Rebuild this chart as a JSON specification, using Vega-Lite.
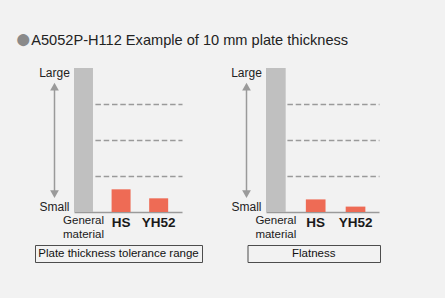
{
  "$schema": "https://vega.github.io/schema/vega-lite/v6.json",
  "background": "#f2f2f2",
  "padding": {"left": 15, "top": 26, "right": 65, "bottom": 36},
  "title": {
    "text": "●",
    "subtitle": "\u200b\u00a0\u00a0\u00a0\u00a0A5052P-H112 Example of 10 mm plate thickness",
    "anchor": "start",
    "frame": "group",
    "color": "#8a8a8a",
    "fontSize": 28,
    "font": "Liberation Sans",
    "fontWeight": "normal",
    "subtitleColor": "#222222",
    "subtitleFontSize": 14.6,
    "subtitleFont": "Liberation Sans",
    "subtitlePadding": -21,
    "dx": -20,
    "offset": 13
  },
  "spacing": 4,
  "vconcat": [
    {
      "spacing": 45,
      "hconcat": [
        {
          "bounds": "flush",
          "spacing": 0,
          "hconcat": [
            {
              "width": 39,
              "height": 144,
              "layer": [
                {
                  "data": {"values": [{"from": 0.496, "to": 3.485}]},
                  "mark": {"type": "rule", "color": "#9a9a9a", "strokeWidth": 1.5},
                  "encoding": {
                    "y": {"field": "from", "type": "quantitative", "scale": {"domain": [0, 4], "nice": false}, "axis": null},
                    "y2": {"field": "to"}
                  }
                },
                {
                  "data": {"values": [{"end": "top", "v": 3.485}, {"end": "bottom", "v": 0.496}]},
                  "mark": {"type": "point", "filled": true, "color": "#9a9a9a", "size": 76, "opacity": 1, "strokeWidth": 0},
                  "encoding": {
                    "y": {"field": "v", "type": "quantitative", "scale": {"domain": [0, 4], "nice": false}, "axis": null},
                    "shape": {"field": "end", "type": "nominal", "scale": {"domain": ["top", "bottom"], "range": ["M-1,0.885L1,0.885L0,-0.885Z", "M-1,-0.885L1,-0.885L0,0.885Z"]}, "legend": null}
                  }
                },
                {
                  "data": {"values": [{"label": "Large", "v": 4}]},
                  "mark": {"type": "text", "baseline": "top", "fontSize": 12, "color": "#222222"},
                  "encoding": {
                    "y": {"field": "v", "type": "quantitative", "scale": {"domain": [0, 4], "nice": false}, "axis": null},
                    "text": {"field": "label"}
                  }
                },
                {
                  "data": {"values": [{"label": "Small", "v": 0}]},
                  "mark": {"type": "text", "baseline": "alphabetic", "dy": -1, "fontSize": 12, "color": "#222222"},
                  "encoding": {
                    "y": {"field": "v", "type": "quantitative", "scale": {"domain": [0, 4], "nice": false}, "axis": null},
                    "text": {"field": "label"}
                  }
                }
              ]
            },
            {
              "width": 108,
              "height": 144,
              "data": {"values": [
                {"material": "General material", "value": 4},
                {"material": "HS", "value": 0.63},
                {"material": "YH52", "value": 0.38}
              ]},
              "mark": {"type": "bar"},
              "encoding": {
                "x": {
                  "field": "material", "type": "nominal", "sort": null,
                  "scale": {"paddingInner": 0.495, "paddingOuter": 0.184, "align": 0},
                  "axis": {
                    "title": null, "labelAngle": 0, "ticks": false, "domainColor": "#9a9a9a", "domainWidth": 1.5,
                    "labelColor": "#1a1a1a", "labelOverlap": false, "labelBaseline": "top", "labelLineHeight": 14,
                    "labelExpr": "datum.value == 'General material' ? ['General', 'material'] : datum.label",
                    "labelPadding": {"condition": {"test": "datum.value == 'General material'", "value": 2}, "value": 3},
                    "labelFontSize": {"condition": {"test": "datum.value == 'General material'", "value": 11.5}, "value": 13.5},
                    "labelFontWeight": {"condition": {"test": "datum.value == 'General material'", "value": "normal"}, "value": "bold"}
                  }
                },
                "y": {
                  "field": "value", "type": "quantitative", "scale": {"domain": [0, 4], "nice": false},
                  "axis": {"title": null, "labels": false, "ticks": false, "domain": false, "grid": true, "values": [1, 2, 3], "gridColor": "#9a9a9a", "gridWidth": 1.5, "gridDash": [5.5, 2.8], "gridDashOffset": 4}
                },
                "color": {"condition": {"test": "datum.material === 'General material'", "value": "#c0c0c0"}, "value": "#ee6b55"}
              }
            }
          ]
        },
        {
          "bounds": "flush",
          "spacing": 0,
          "hconcat": [
            {
              "width": 39,
              "height": 144,
              "layer": [
                {
                  "data": {"values": [{"from": 0.496, "to": 3.485}]},
                  "mark": {"type": "rule", "color": "#9a9a9a", "strokeWidth": 1.5},
                  "encoding": {
                    "y": {"field": "from", "type": "quantitative", "scale": {"domain": [0, 4], "nice": false}, "axis": null},
                    "y2": {"field": "to"}
                  }
                },
                {
                  "data": {"values": [{"end": "top", "v": 3.485}, {"end": "bottom", "v": 0.496}]},
                  "mark": {"type": "point", "filled": true, "color": "#9a9a9a", "size": 76, "opacity": 1, "strokeWidth": 0},
                  "encoding": {
                    "y": {"field": "v", "type": "quantitative", "scale": {"domain": [0, 4], "nice": false}, "axis": null},
                    "shape": {"field": "end", "type": "nominal", "scale": {"domain": ["top", "bottom"], "range": ["M-1,0.885L1,0.885L0,-0.885Z", "M-1,-0.885L1,-0.885L0,0.885Z"]}, "legend": null}
                  }
                },
                {
                  "data": {"values": [{"label": "Large", "v": 4}]},
                  "mark": {"type": "text", "baseline": "top", "fontSize": 12, "color": "#222222"},
                  "encoding": {
                    "y": {"field": "v", "type": "quantitative", "scale": {"domain": [0, 4], "nice": false}, "axis": null},
                    "text": {"field": "label"}
                  }
                },
                {
                  "data": {"values": [{"label": "Small", "v": 0}]},
                  "mark": {"type": "text", "baseline": "alphabetic", "dy": -1, "fontSize": 12, "color": "#222222"},
                  "encoding": {
                    "y": {"field": "v", "type": "quantitative", "scale": {"domain": [0, 4], "nice": false}, "axis": null},
                    "text": {"field": "label"}
                  }
                }
              ]
            },
            {
              "width": 113,
              "height": 144,
              "data": {"values": [
                {"material": "General material", "value": 4},
                {"material": "HS", "value": 0.35},
                {"material": "YH52", "value": 0.15}
              ]},
              "mark": {"type": "bar"},
              "encoding": {
                "x": {
                  "field": "material", "type": "nominal", "sort": null,
                  "scale": {"paddingInner": 0.506, "paddingOuter": 0.171, "align": 0},
                  "axis": {
                    "title": null, "labelAngle": 0, "ticks": false, "domainColor": "#9a9a9a", "domainWidth": 1.5,
                    "labelColor": "#1a1a1a", "labelOverlap": false, "labelBaseline": "top", "labelLineHeight": 14,
                    "labelExpr": "datum.value == 'General material' ? ['General', 'material'] : datum.label",
                    "labelPadding": {"condition": {"test": "datum.value == 'General material'", "value": 2}, "value": 3},
                    "labelFontSize": {"condition": {"test": "datum.value == 'General material'", "value": 11.5}, "value": 13.5},
                    "labelFontWeight": {"condition": {"test": "datum.value == 'General material'", "value": "normal"}, "value": "bold"}
                  }
                },
                "y": {
                  "field": "value", "type": "quantitative", "scale": {"domain": [0, 4], "nice": false},
                  "axis": {"title": null, "labels": false, "ticks": false, "domain": false, "grid": true, "values": [1, 2, 3], "gridColor": "#9a9a9a", "gridWidth": 1.5, "gridDash": [5.5, 2.8], "gridDashOffset": 4}
                },
                "color": {"condition": {"test": "datum.material === 'General material'", "value": "#c0c0c0"}, "value": "#ee6b55"}
              }
            }
          ]
        }
      ]
    },
    {
      "bounds": "flush",
      "spacing": 45.5,
      "hconcat": [
        {
          "width": 167,
          "height": 17,
          "view": {"stroke": "#4d4d4d", "strokeWidth": 1},
          "data": {"values": [{"caption": "Plate thickness tolerance range"}]},
          "mark": {"type": "text", "fontSize": 11.5, "color": "#111111"},
          "encoding": {"text": {"field": "caption"}}
        },
        {
          "width": 132.5,
          "height": 17,
          "view": {"stroke": "#4d4d4d", "strokeWidth": 1},
          "data": {"values": [{"caption": "Flatness"}]},
          "mark": {"type": "text", "fontSize": 11.5, "color": "#111111"},
          "encoding": {"text": {"field": "caption"}}
        }
      ]
    }
  ],
  "config": {
    "view": {"stroke": null},
    "font": "Liberation Sans",
    "text": {"font": "Liberation Sans"}
  }
}
